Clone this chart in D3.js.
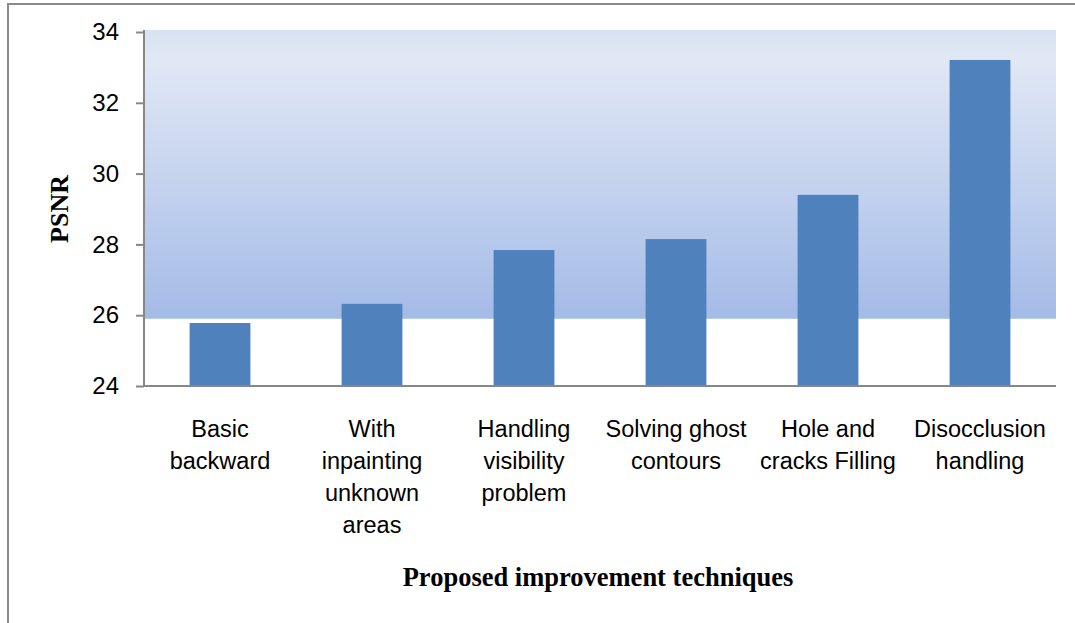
<!DOCTYPE html>
<html>
<head>
<meta charset="utf-8">
<script src="https://cdn.jsdelivr.net/npm/d3@7"></script>
<style>
  html, body { margin: 0; padding: 0; background: #fff; }
  svg { display: block; }
  .tick text { font-family: "Liberation Sans Narrow", "Arial Narrow", "Liberation Sans", sans-serif; }
</style>
</head>
<body>
<svg id="chart"></svg>
<script>
let categories = [
  ["Basic", "backward"],
  ["With", "inpainting", "unknown", "areas"],
  ["Handling", "visibility", "problem"],
  ["Solving ghost", "contours"],
  ["Hole and", "cracks Filling"],
  ["Disocclusion", "handling"]
];
let psnr = [25.78, 26.32, 27.84, 28.15, 29.40, 33.21];
let yTicks = [24, 26, 28, 30, 32, 34];

let size = {width: 1075, height: 623};
let plot = {left: 144, right: 1056, top: 30, bottom: 386};

let svg = d3.select('#chart')
  .attr("width", size.width)
  .attr("height", size.height);

// outer chart border (only top and left show up in the frame)
svg.append("path")
  .attr("d", "M8,623 L8,4 L1075,4")
  .attr("fill", "none")
  .attr("stroke", "#8a8a8a")
  .attr("stroke-width", 2);

let x = d3.scaleBand()
  .domain(d3.range(categories.length))
  .range([plot.left, plot.right])
  .paddingInner(0.6)
  .paddingOuter(0.3);

let y = d3.scaleLinear()
  .domain([24, 34])
  .range([plot.bottom, 32]);

// plot area gradient, stops a little under the 26 line like the original
let grad = svg.append("defs").append("linearGradient")
  .attr("id", "plotGrad")
  .attr("x1", 0).attr("y1", 0).attr("x2", 0).attr("y2", 1);
grad.append("stop").attr("offset", "0%").attr("stop-color", "#d9e2f3");
grad.append("stop").attr("offset", "10%").attr("stop-color", "#e1e8f5");
grad.append("stop").attr("offset", "100%").attr("stop-color", "#a4bbe7");

svg.append("rect")
  .attr("x", plot.left)
  .attr("y", plot.top)
  .attr("width", plot.right - plot.left)
  .attr("height", y(25.9) - plot.top)
  .attr("fill", "url(#plotGrad)");

svg.append("g")
  .selectAll("rect")
  .data(psnr)
  .enter().append("rect")
  .attr("x", (d, i) => x(i))
  .attr("y", d => y(d))
  .attr("width", x.bandwidth())
  .attr("height", d => y(24) - y(d))
  .attr("fill", "#4f81bd");

// y axis
let yAxis = svg.append("g")
  .attr("transform", `translate(${plot.left},0)`)
  .call(d3.axisLeft(y).tickValues(yTicks).tickSize(8).tickPadding(17).tickFormat(d3.format("d")));
yAxis.select(".domain").attr("stroke", "#878787").attr("stroke-width", 2)
  .attr("d", `M0,${plot.top}V${plot.bottom}`);
yAxis.selectAll(".tick line").attr("stroke", "#878787").attr("stroke-width", 2);
yAxis.selectAll(".tick text").attr("font-size", "24px").attr("fill", "#000");

// x axis line
svg.append("line")
  .attr("x1", plot.left).attr("x2", plot.right)
  .attr("y1", plot.bottom).attr("y2", plot.bottom)
  .attr("stroke", "#878787")
  .attr("stroke-width", 2);

// category labels
svg.append("g")
  .selectAll("text")
  .data(categories)
  .enter().append("text")
  .attr("class", "catLabel")
  .attr("text-anchor", "middle")
  .attr("font-family", '"Liberation Sans Narrow", "Arial Narrow", "Liberation Sans", sans-serif')
  .attr("font-size", "23.5px")
  .attr("fill", "#000")
  .each(function(d, i) {
    d3.select(this).selectAll("tspan")
      .data(d)
      .enter().append("tspan")
      .attr("x", x(i) + x.bandwidth() / 2)
      .attr("y", (t, j) => 437 + j * 32)
      .text(t => t);
  });

// axis titles
svg.append("text")
  .attr("x", (plot.left + plot.right) / 2 - 2)
  .attr("y", 586)
  .attr("text-anchor", "middle")
  .attr("font-family", '"Liberation Serif", "Times New Roman", serif')
  .attr("font-weight", "bold")
  .attr("font-size", "26.5px")
  .text("Proposed improvement techniques");

svg.append("text")
  .attr("transform", "translate(68,209) rotate(-90)")
  .attr("text-anchor", "middle")
  .attr("font-family", '"Liberation Serif", "Times New Roman", serif')
  .attr("font-weight", "bold")
  .attr("font-size", "26px")
  .text("PSNR");
</script>
</body>
</html>
